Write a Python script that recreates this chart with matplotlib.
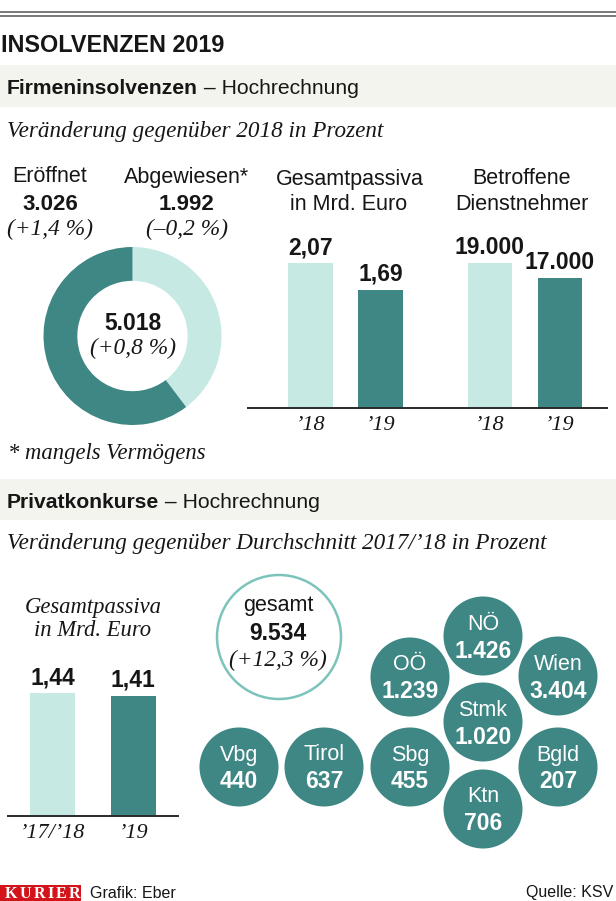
import matplotlib
matplotlib.use("Agg")
import matplotlib.pyplot as plt
import matplotlib.font_manager as fm
from matplotlib.patches import Circle, Rectangle

# ---------------- data ----------------
title = "INSOLVENZEN 2019"
section1 = ("Firmeninsolvenzen", " – Hochrechnung")
subtitle1 = "Veränderung gegenüber 2018 in Prozent"
firm_labels = ["Eröffnet", "Abgewiesen*"]
firm_values = [3026, 1992]
firm_changes = ["(+1,4 %)", "(–0,2 %)"]
firm_total_change = "(+0,8 %)"
footnote = "* mangels Vermögens"

passiva_title = ["Gesamtpassiva", "in Mrd. Euro"]
passiva_years = ["’18", "’19"]
passiva_values = [2.07, 1.69]
staff_title = ["Betroffene", "Dienstnehmer"]
staff_years = ["’18", "’19"]
staff_values = [19000, 17000]

section2 = ("Privatkonkurse", " – Hochrechnung")
subtitle2 = "Veränderung gegenüber Durchschnitt 2017/’18 in Prozent"
priv_title = ["Gesamtpassiva", "in Mrd. Euro"]
priv_years = ["’17/’18", "’19"]
priv_values = [1.44, 1.41]

priv_total_label = "gesamt"
priv_total = 9534
priv_total_change = "(+12,3 %)"
states = ["NÖ", "OÖ", "Wien", "Stmk", "Vbg", "Tirol", "Sbg", "Bgld", "Ktn"]
state_values = [1426, 1239, 3404, 1020, 440, 637, 455, 207, 706]

credit = "Grafik: Eber"
source = "Quelle: KSV"
brand = "KURIER"

# ---------------- layout / style ----------------
W, H = 616, 901
DARK = "#3e8784"
LIGHT = "#c6e9e3"
RING = "#7cc4bb"
BAND = "#f4f4ee"
INK = "#161616"
RED = "#d3141b"

avail = {f.name for f in fm.fontManager.ttflist}
def pick(*names):
    for n in names:
        if n in avail:
            return n
    return "DejaVu Sans"
SANS = pick("Liberation Sans", "Arial", "DejaVu Sans")
SERIF = pick("Liberation Serif", "DejaVu Serif")

# bubble layout in pixel space (centre x, centre y), radius
BUBBLE_POS = [(483, 636), (410, 677), (558, 676), (483, 722),
              (239, 767), (324, 767), (410, 767), (558, 767), (483, 809)]
BUBBLE_R = 39.5
TOTAL_POS, TOTAL_R = (279, 637), 62

def de_int(v):
    return f"{v:,}".replace(",", ".")

def de_dec(v):
    return f"{v:.2f}".replace(".", ",")

def frac(x0, y0, x1, y1):
    return [x0 / W, 1 - y1 / H, (x1 - x0) / W, (y1 - y0) / H]

fig = plt.figure(figsize=(W / 100, H / 100), dpi=100)
fig.patch.set_facecolor("white")

# overlay axes in pixel coordinates
ax = fig.add_axes([0, 0, 1, 1], zorder=0)
ax.set_xlim(0, W)
ax.set_ylim(H, 0)
ax.axis("off")

def T(x, y, s, size=15, weight="normal", style="normal", family=None,
      ha="center", va="center", color=INK):
    fam = family or SANS
    dy = 2 if fam == SANS else 1
    return ax.text(x, y + dy, s, fontsize=size, fontweight=weight, fontstyle=style,
                   family=fam, ha=ha, va=va, color=color)

# top double rule
for yy in (12, 16):
    ax.plot([0, W], [yy, yy], color="#555555", lw=1.1, solid_capstyle="butt")

T(1, 44, title, size=16.8, weight="bold", ha="left")

def band(y0, y1, parts, yc):
    ax.add_patch(Rectangle((0, y0), W, y1 - y0, facecolor=BAND, edgecolor="none"))
    t1 = T(7, yc, parts[0], size=15.2, weight="bold", ha="left")
    ax.annotate(parts[1], xy=(1, 0), xycoords=t1, ha="left", va="bottom",
                fontsize=15.2, family=SANS, color=INK)

band(65, 107, section1, 87)
T(7, 130, subtitle1, size=16.7, style="italic", family=SERIF, ha="left")

# donut block labels
for xc, lab, val, chg in zip([50, 187], firm_labels, firm_values, firm_changes):
    T(xc, 175, lab, size=15.5)
    T(xc, 203, de_int(val), size=16, weight="bold")
    T(xc, 228, chg, size=16.8, style="italic", family=SERIF)

# donut
cx, cy, R = 132.5, 336, 89
axd = fig.add_axes(frac(cx - R, cy - R, cx + R, cy + R), zorder=1)
axd.pie([firm_values[1], firm_values[0]], colors=[LIGHT, DARK], startangle=90,
        counterclock=False, radius=1, wedgeprops=dict(width=0.38, linewidth=0))
axd.set_xlim(-1, 1)
axd.set_ylim(-1, 1)
axd.set_aspect("equal")
axd.axis("off")
T(cx, 322, de_int(sum(firm_values)), size=16.5, weight="bold")
T(cx, 347, firm_total_change, size=16.8, style="italic", family=SERIF)

T(8, 453, footnote, size=16.3, style="italic", family=SERIF, ha="left")

# bar panels
def bar_panel(px_rect, first_center, spacing, bar_px, top_px, values, texts, ticks):
    x0, y0, x1, y1 = px_rect
    a = fig.add_axes(frac(x0, y0, x1, y1), zorder=1)
    a.patch.set_alpha(0)
    left = -(first_center - x0) / spacing
    a.set_xlim(left, left + (x1 - x0) / spacing)
    a.set_ylim(0, max(values) * (y1 - y0) / top_px)
    xs = list(range(len(values)))
    a.bar(xs, values, width=bar_px / spacing, color=[LIGHT, DARK], linewidth=0)
    for x, v, t in zip(xs, values, texts):
        a.annotate(t, (x, v), xytext=(0, 11), textcoords="offset points",
                   ha="center", va="center", fontsize=16.5, fontweight="bold",
                   family=SANS, color=INK)
    for s in ("top", "left", "right"):
        a.spines[s].set_visible(False)
    a.spines["bottom"].set_color("#2a2a2a")
    a.spines["bottom"].set_linewidth(1.4)
    a.set_yticks([])
    a.set_xticks(xs, ticks)
    a.tick_params(axis="x", length=0, pad=6, labelsize=16, labelcolor=INK)
    for lab in a.get_xticklabels():
        lab.set_family(SERIF)
        lab.set_style("italic")
    return a

bar_panel((248, 230, 428, 408), 310.5, 70, 44.5, 145, passiva_values,
          [de_dec(v) for v in passiva_values], passiva_years)
bar_panel((428, 230, 607, 408), 490, 70, 44.5, 145, staff_values,
          [de_int(v) for v in staff_values], staff_years)
T(350, 177, passiva_title[0], size=15.5)
T(349, 203, passiva_title[1], size=15.5)
T(522, 177, staff_title[0], size=15.5)
T(522, 203, staff_title[1], size=15.5)

# section 2
band(479, 520, section2, 500)
T(7, 543, subtitle2, size=16.7, style="italic", family=SERIF, ha="left")

T(93, 607, priv_title[0], size=16.3, style="italic", family=SERIF)
T(93, 629, priv_title[1], size=16.3, style="italic", family=SERIF)
bar_panel((8, 680, 178, 816), 52.5, 80.5, 45, 123, priv_values,
          [de_dec(v) for v in priv_values], priv_years)

# total ring
ax.add_patch(Circle(TOTAL_POS, TOTAL_R, facecolor="white", edgecolor=RING, lw=1.8))
T(TOTAL_POS[0] - 1, 604, priv_total_label, size=15.5)
T(TOTAL_POS[0] - 1, 632, de_int(priv_total), size=16.5, weight="bold")
T(TOTAL_POS[0] - 1, 659, priv_total_change, size=16.8, style="italic", family=SERIF)

# state bubbles
for (bx, by), name, val in zip(BUBBLE_POS, states, state_values):
    ax.add_patch(Circle((bx, by), BUBBLE_R, facecolor=DARK, edgecolor="none"))
    T(bx, by - 14, name, size=15.5, color="white")
    T(bx, by + 13, de_int(val), size=16.5, weight="bold", color="white")

# footer
ax.add_patch(Rectangle((0, 885), 81, 16, facecolor=RED, edgecolor="none"))
prev = ax.text(5, 894, brand[0], fontsize=11.5, family=SERIF, fontweight="bold",
               color="white", ha="left", va="center")
for ch in brand[1:]:
    prev = ax.annotate(ch, xy=(1, 0), xycoords=prev, xytext=(1.6, 0),
                       textcoords="offset points", ha="left", va="bottom",
                       fontsize=11.5, family=SERIF, fontweight="bold", color="white")
T(90, 891, credit, size=11.5, ha="left")
T(613, 891, source, size=11.5, ha="right")

fig.savefig("out.png", dpi=100, facecolor="white")
